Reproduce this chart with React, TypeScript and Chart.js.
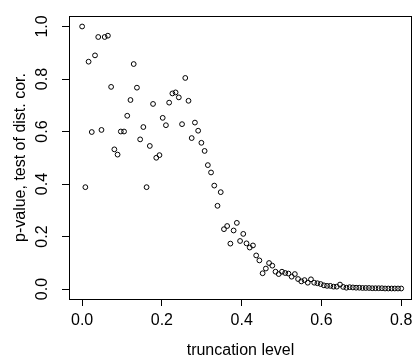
import { useEffect, useRef } from "react";
import { Chart, registerables } from "chart.js";

Chart.register(...registerables);

const truncationLevels = [
  0, 0.0081, 0.0162, 0.0242, 0.0323, 0.0404, 0.0485, 0.0566, 0.0646, 0.0727,
  0.0808, 0.0889, 0.097, 0.1051, 0.1131, 0.1212, 0.1293, 0.1374, 0.1455, 0.1535,
  0.1616, 0.1697, 0.1778, 0.1859, 0.1939, 0.202, 0.2101, 0.2182, 0.2263, 0.2343,
  0.2424, 0.2505, 0.2586, 0.2667, 0.2747, 0.2828, 0.2909, 0.299, 0.3071, 0.3152,
  0.3232, 0.3313, 0.3394, 0.3475, 0.3556, 0.3636, 0.3717, 0.3798, 0.3879, 0.396,
  0.404, 0.4121, 0.4202, 0.4283, 0.4364, 0.4444, 0.4525, 0.4606, 0.4687, 0.4768,
  0.4848, 0.4929, 0.501, 0.5091, 0.5172, 0.5253, 0.5333, 0.5414, 0.5495, 0.5576,
  0.5657, 0.5737, 0.5818, 0.5899, 0.598, 0.6061, 0.6141, 0.6222, 0.6303, 0.6384,
  0.6465, 0.6545, 0.6626, 0.6707, 0.6788, 0.6869, 0.6949, 0.703, 0.7111, 0.7192,
  0.7273, 0.7354, 0.7434, 0.7515, 0.7596, 0.7677, 0.7758, 0.7838, 0.7919, 0.8,
];

const pValues = [
  1.0, 0.388, 0.866, 0.598, 0.89, 0.96, 0.606, 0.96, 0.965, 0.77,
  0.532, 0.512, 0.6, 0.6, 0.66, 0.72, 0.857, 0.767, 0.57, 0.617,
  0.388, 0.545, 0.705, 0.5, 0.51, 0.652, 0.624, 0.71, 0.745, 0.749,
  0.73, 0.628, 0.804, 0.717, 0.575, 0.634, 0.603, 0.557, 0.526, 0.472,
  0.444, 0.394, 0.317, 0.369, 0.228, 0.24, 0.173, 0.223, 0.252, 0.183,
  0.21, 0.174, 0.158, 0.166, 0.128, 0.109, 0.06, 0.078, 0.099, 0.089,
  0.066, 0.057, 0.066, 0.061, 0.059, 0.047, 0.057, 0.038, 0.029, 0.034,
  0.024, 0.037, 0.024, 0.022, 0.019, 0.014, 0.012, 0.012, 0.009, 0.009,
  0.017, 0.008, 0.005, 0.007, 0.006, 0.005, 0.005, 0.004, 0.004, 0.004,
  0.003, 0.003, 0.003, 0.003, 0.002, 0.002, 0.002, 0.002, 0.002, 0.002,
];

const xTicks = [0, 0.2, 0.4, 0.6, 0.8];
const yTicks = [0, 0.2, 0.4, 0.6, 0.8, 1.0];
const xTitle = "truncation level";
const yTitle = "p-value, test of dist. cor.";

const FONT = '"Liberation Sans", Arial, Helvetica, sans-serif';

const boxPlugin = {
  id: "rbox",
  afterDraw(chart: any) {
    const { ctx, chartArea: a } = chart;
    ctx.save();
    ctx.strokeStyle = "#000";
    ctx.lineWidth = 1;
    const l = Math.round(a.left) + 0.5;
    const t = Math.round(a.top) + 0.5;
    const r = Math.round(a.right) - 0.5;
    const b = Math.round(a.bottom) + 0.5;
    ctx.strokeRect(l, t, r - l, b - t);
    ctx.restore();
  },
};

export default function App() {
  const ref = useRef<HTMLCanvasElement | null>(null);

  useEffect(() => {
    if (!ref.current) return;
    const chart = new Chart(ref.current, {
      type: "scatter",
      data: {
        datasets: [
          {
            data: truncationLevels.map((x, i) => ({ x, y: pValues[i] })),
            pointRadius: 2.4,
            pointBorderWidth: 1,
            pointBorderColor: "#000",
            pointBackgroundColor: "rgba(0,0,0,0)",
            showLine: false,
          },
        ],
      },
      options: {
        animation: false,
        responsive: false,
        devicePixelRatio: 1,
        events: [],
        layout: { padding: { top: 8, right: 2, left: 0, bottom: 0 } },
        plugins: { legend: { display: false }, tooltip: { enabled: false } },
        scales: {
          x: {
            type: "linear",
            min: -0.0329,
            max: 0.827,
            afterBuildTicks: (s: any) => {
              s.ticks = xTicks.map((v) => ({ value: v }));
            },
            afterFit: (s: any) => {
              s.height = 60;
            },
            grid: {
              display: true,
              drawOnChartArea: false,
              drawTicks: true,
              tickLength: 7,
              color: "#000",
              lineWidth: 1,
            },
            border: { display: false },
            ticks: {
              autoSkip: false,
              minRotation: 0,
              maxRotation: 0,
              padding: 6.5,
              color: "#000",
              font: { family: FONT, size: 16, lineHeight: 1 },
              callback: (v: any) => Number(v).toFixed(1),
            },
            title: {
              display: true,
              text: xTitle,
              color: "#000",
              font: { family: FONT, size: 16, lineHeight: 1 },
              padding: { top: 0, bottom: 0 },
            },
          },
          y: {
            type: "linear",
            min: -0.038,
            max: 1.04,
            afterBuildTicks: (s: any) => {
              s.ticks = yTicks.map((v) => ({ value: v }));
            },
            afterFit: (s: any) => {
              s.width = 69;
            },
            grid: {
              display: true,
              drawOnChartArea: false,
              drawTicks: true,
              tickLength: 7,
              color: "#000",
              lineWidth: 1,
            },
            border: { display: false },
            ticks: {
              autoSkip: false,
              minRotation: 90,
              maxRotation: 90,
              crossAlign: "center",
              padding: 8,
              color: "#000",
              font: { family: FONT, size: 16, lineHeight: 1 },
              callback: (v: any) => Number(v).toFixed(1),
            },
            title: {
              display: true,
              text: yTitle,
              color: "#000",
              font: { family: FONT, size: 16, lineHeight: 1 },
              padding: { top: 13, bottom: 0 },
            },
          },
        },
      },
      plugins: [boxPlugin],
    });
    return () => chart.destroy();
  }, []);

  return (
    <div style={{ position: "fixed", left: 0, top: 0, width: 419, height: 359, background: "#fff" }}>
      <canvas ref={ref} width={419} height={359} style={{ width: 419, height: 359, display: "block" }} />
    </div>
  );
}
